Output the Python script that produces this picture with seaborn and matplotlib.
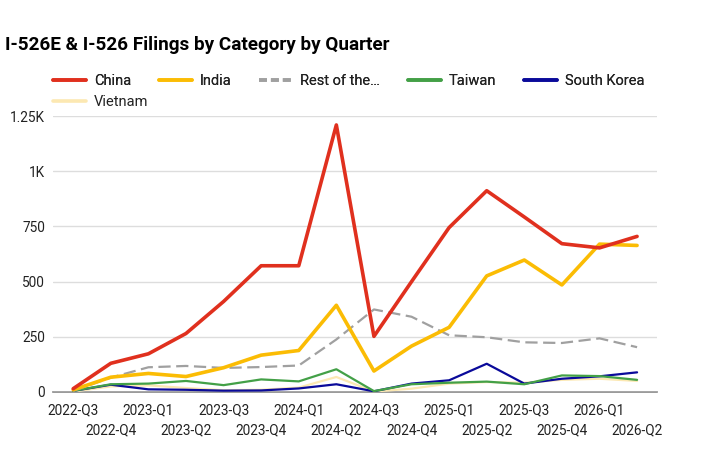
import matplotlib
matplotlib.use("Agg")
import matplotlib.pyplot as plt
import seaborn as sns
import pandas as pd
from matplotlib.lines import Line2D

quarters = ["2022-Q3", "2022-Q4", "2023-Q1", "2023-Q2", "2023-Q3", "2023-Q4",
            "2024-Q1", "2024-Q2", "2024-Q3", "2024-Q4", "2025-Q1", "2025-Q2",
            "2025-Q3", "2025-Q4", "2026-Q1", "2026-Q2"]

china = [15, 130, 173, 265, 410, 572, 572, 1210, 252, 500, 745, 912, 793, 672, 653, 705]
india = [10, 67, 84, 70, 110, 167, 188, 393, 95, 208, 293, 526, 598, 485, 670, 664]
rest_world = [5, 65, 112, 118, 109, 113, 120, 238, 374, 341, 257, 248, 225, 222, 243, 203]
taiwan = [5, 35, 38, 50, 31, 57, 48, 103, 4, 35, 42, 47, 35, 75, 72, 55]
south_korea = [5, 33, 12, 10, 6, 7, 16, 35, 3, 38, 53, 128, 38, 60, 71, 89]
vietnam = [2, 25, 30, 18, 8, 10, 20, 68, 2, 15, 38, 45, 42, 55, 60, 50]

REST = "Rest of the\u2026"
series = {
    "China": china,
    "India": india,
    REST: rest_world,
    "Taiwan": taiwan,
    "South Korea": south_korea,
    "Vietnam": vietnam,
}
colors = {
    "China": "#e0301e",
    "India": "#fbbc04",
    REST: "#a0a0a0",
    "Taiwan": "#43a047",
    "South Korea": "#0a0a9a",
    "Vietnam": "#fce8b2",
}
widths = {"China": 2.6, "India": 2.6, REST: 1.6,
          "Taiwan": 1.6, "South Korea": 1.6, "Vietnam": 1.6}

sns.set_theme(style="white")
plt.rcParams["font.family"] = ["Roboto", "DejaVu Sans"]

fig = plt.figure(figsize=(7.2, 4.59), dpi=100)
ax = fig.add_axes([0.074, 0.146, 0.8385, 0.601])

x = list(range(len(quarters)))
# back to front so china ends up on top
for name in ["Vietnam", "South Korea", "Taiwan", REST, "India", "China"]:
    df = pd.DataFrame({"x": x, "y": series[name]})
    ls = (0, (5.5, 2.5)) if name == REST else "-"
    sns.lineplot(data=df, x="x", y="y", ax=ax, color=colors[name],
                 lw=widths[name], linestyle=ls, legend=False)

ax.set_xlim(-0.53, 15.53)
ax.set_ylim(0, 1250)
ax.set_yticks([0, 250, 500, 750, 1000, 1250])
ax.set_yticklabels(["0", "250", "500", "750", "1K", "1.25K"])

# staggered quarter labels: even ones on top row, odd ones below
ax.set_xticks(x[::2])
ax.set_xticklabels(quarters[::2])
ax.set_xticks(x[1::2], minor=True)
ax.set_xticklabels(quarters[1::2], minor=True)
ax.tick_params(axis="both", which="both", length=0, labelsize=9.8, colors="#222222")
ax.tick_params(axis="y", pad=6)
ax.tick_params(axis="x", which="major", pad=8.3)
ax.tick_params(axis="x", which="minor", pad=22.7)

ax.yaxis.grid(True, color="#dddddd", lw=1)
ax.set_axisbelow(True)
ax.set_xlabel("")
ax.set_ylabel("")
for s in ["left", "right", "top"]:
    ax.spines[s].set_visible(False)
ax.spines["bottom"].set_color("#888888")
ax.spines["bottom"].set_linewidth(1.2)
ax.spines["bottom"].set_zorder(0.5)

fig.text(0.007, 0.902, "I-526E & I-526 Filings by Category by Quarter",
         fontsize=13.6, fontweight="bold", color="#000000", va="center")


def make_handle(n):
    return Line2D([], [], color=colors[n], lw=2.6,
                  linestyle=(0, (2.2, 1.1)) if n == REST else "-")


row1 = ["China", "India", REST, "Taiwan", "South Korea"]
leg_kw = dict(loc="center left", frameon=False, fontsize=10.5, handlelength=2.26,
              handletextpad=0.55, columnspacing=1.9, borderaxespad=0, borderpad=0,
              labelcolor="#222222")
leg1 = fig.legend([make_handle(n) for n in row1], row1, ncol=5,
                  bbox_to_anchor=(0.0736, 0.824), **leg_kw)
fig.add_artist(leg1)
fig.legend([make_handle("Vietnam")], ["Vietnam"], ncol=1,
           bbox_to_anchor=(0.0736, 0.778), **leg_kw)

fig.savefig("out.png", dpi=100)
